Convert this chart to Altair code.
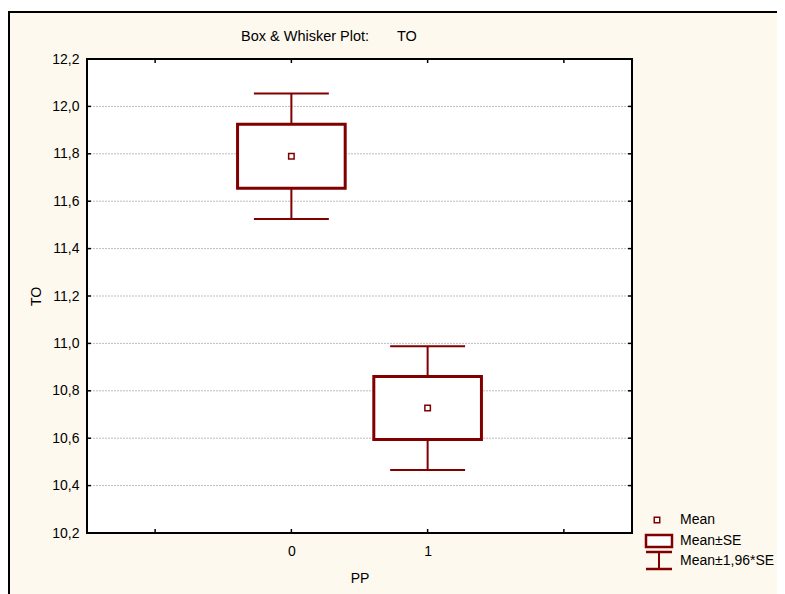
import altair as alt
import pandas as pd

# ---- data ----
pp = [0, 1]
mean = [11.79, 10.727]
se = [0.135, 0.133]
y_ticks = [10.2, 10.4, 10.6, 10.8, 11.0, 11.2, 11.4, 11.6, 11.8, 12.0, 12.2]
grid_vals = [10.4, 10.6, 10.8, 11.0, 11.2, 11.4, 11.6, 11.8, 12.0]
x_ticks = [-1, 0, 1, 2]
x_labels = [0, 1]
legend_labels = ["Mean", "Mean±SE", "Mean±1,96*SE"]
title_left = "Box & Whisker Plot:"
title_right = "TO"

W, H = 545, 474
DARK = "#800000"
CREAM = "#FEF9EE"
FONT = "Liberation Sans"
FS = 14

df = pd.DataFrame({"pp": pp, "mean": mean, "se": se})
grid_df = pd.DataFrame({"v": grid_vals})
ytick_df = pd.DataFrame({"v": y_ticks})
xtick_df = pd.DataFrame({"t": x_ticks})
one = pd.DataFrame({"a": [0]})

xscale = alt.Scale(domain=[-1.5, 2.5], nice=False, zero=False)
yscale = alt.Scale(domain=[10.2, 12.2], nice=False, zero=False)

xaxis = alt.Axis(values=x_labels, ticks=False, domain=False, grid=False, zindex=2,
                 labelFont=FONT, labelFontSize=FS, labelColor="black", labelPadding=11,
                 titleFont=FONT, titleFontSize=FS, titleFontWeight="normal",
                 titleColor="black", titlePadding=13)
yaxis = alt.Axis(values=y_ticks, ticks=False, domain=False, grid=False, zindex=2,
                 labelExpr="replace(format(datum.value, '.1f'), '.', ',')",
                 labelFont=FONT, labelFontSize=FS, labelColor="black", labelPadding=8,
                 titleFont=FONT, titleFontSize=FS, titleFontWeight="normal",
                 titleColor="black", titlePadding=8)


def X(field, **kw):
    return alt.X(field, type="quantitative", scale=xscale, axis=xaxis, title="PP", **kw)


def Y(field, **kw):
    return alt.Y(field, type="quantitative", scale=yscale, axis=yaxis, title="TO", **kw)


base = alt.Chart(df).transform_calculate(
    se_lo="datum.mean - datum.se",
    se_hi="datum.mean + datum.se",
    ci_lo="datum.mean - 1.96 * datum.se",
    ci_hi="datum.mean + 1.96 * datum.se",
    box_l="datum.pp - 0.395",
    box_r="datum.pp + 0.395",
    cap_l="datum.pp - 0.275",
    cap_r="datum.pp + 0.275",
)

# background frame and plot area
frame = alt.Chart(one).mark_rect(fill=CREAM).encode(
    x=alt.value(-78), y=alt.value(-47), x2=alt.value(W + 160), y2=alt.value(H + 80))
frame_top = alt.Chart(one).mark_rule(color="black", strokeWidth=2).encode(
    x=alt.value(-79), x2=alt.value(W + 160), y=alt.value(-47))
frame_left = alt.Chart(one).mark_rule(color="black", strokeWidth=2).encode(
    x=alt.value(-78), y=alt.value(-48), y2=alt.value(H + 80))
plotbg = alt.Chart(one).mark_rect(fill="white").encode(
    x=alt.value(0), y=alt.value(0), x2=alt.value(W), y2=alt.value(H))

grid = alt.Chart(grid_df).mark_rule(color="#BDBDBD", strokeWidth=1, strokeDash=[2, 1]).encode(
    y=Y("v"), x=alt.value(0), x2=alt.value(W))

tick_left = alt.Chart(ytick_df).mark_rule(color="black", strokeWidth=1.5).encode(
    y=Y("v"), x=alt.value(0), x2=alt.value(4))
tick_right = alt.Chart(ytick_df).mark_rule(color="black", strokeWidth=1.5).encode(
    y=Y("v"), x=alt.value(W - 4), x2=alt.value(W))
tick_bottom = alt.Chart(xtick_df).mark_rule(color="black", strokeWidth=1.5).encode(
    x=X("t"), y=alt.value(H - 4), y2=alt.value(H))
tick_top = alt.Chart(xtick_df).mark_rule(color="black", strokeWidth=1.5).encode(
    x=X("t"), y=alt.value(0), y2=alt.value(4))

whisker = base.mark_rule(color=DARK, strokeWidth=2).encode(
    x=X("pp"), y=Y("ci_lo:Q"), y2="ci_hi:Q")
cap_hi = base.mark_rule(color=DARK, strokeWidth=2).encode(
    x=X("cap_l:Q"), x2="cap_r:Q", y=Y("ci_hi:Q"))
cap_lo = base.mark_rule(color=DARK, strokeWidth=2).encode(
    x=X("cap_l:Q"), x2="cap_r:Q", y=Y("ci_lo:Q"))
box = base.mark_rect(fill="white", stroke=DARK, strokeWidth=3).encode(
    x=X("box_l:Q"), x2="box_r:Q", y=Y("se_lo:Q"), y2="se_hi:Q")
pts = base.mark_point(shape="square", size=30, filled=False, fill="white",
                      stroke=DARK, strokeWidth=1.5, opacity=1).encode(
    x=X("pp"), y=Y("mean"))

border = alt.Chart(one).mark_rect(fill=None, stroke="black", strokeWidth=2).encode(
    x=alt.value(0), y=alt.value(0), x2=alt.value(W), y2=alt.value(H))

# legend (drawn manually)
lg_sq = alt.Chart(one).mark_point(shape="square", size=30, filled=False, fill="white",
                                  stroke=DARK, strokeWidth=1.5, opacity=1).encode(
    x=alt.value(570), y=alt.value(461))
lg_box = alt.Chart(one).mark_rect(fill="white", stroke=DARK, strokeWidth=2.5).encode(
    x=alt.value(559), x2=alt.value(585), y=alt.value(476), y2=alt.value(488))
lg_w1 = alt.Chart(one).mark_rule(color=DARK, strokeWidth=2.5).encode(
    x=alt.value(559), x2=alt.value(585), y=alt.value(493))
lg_w2 = alt.Chart(one).mark_rule(color=DARK, strokeWidth=2.5).encode(
    x=alt.value(559), x2=alt.value(585), y=alt.value(510))
lg_w3 = alt.Chart(one).mark_rule(color=DARK, strokeWidth=2).encode(
    x=alt.value(572), y=alt.value(493), y2=alt.value(510))
lg_t = []
for lab, yy in zip(legend_labels, [461, 482, 502]):
    lg_t.append(alt.Chart(one).mark_text(align="left", baseline="middle", font=FONT,
                                         fontSize=FS, color="black").encode(
        x=alt.value(593), y=alt.value(yy), text=alt.value(lab)))

t1 = alt.Chart(one).mark_text(align="left", baseline="middle", font=FONT, fontSize=14.5,
                              color="black").encode(
    x=alt.value(154), y=alt.value(-22), text=alt.value(title_left))
t2 = alt.Chart(one).mark_text(align="left", baseline="middle", font=FONT, fontSize=14.5,
                              color="black").encode(
    x=alt.value(310), y=alt.value(-22), text=alt.value(title_right))

chart = alt.layer(
    frame, frame_top, frame_left, plotbg, grid, tick_left, tick_right, tick_bottom, tick_top,
    whisker, cap_hi, cap_lo, box, pts, border,
    lg_sq, lg_box, lg_w1, lg_w2, lg_w3, *lg_t, t1, t2,
).properties(
    width=W, height=H,
    padding={"left": 79, "top": 51, "right": 145, "bottom": 62},
    autosize=alt.AutoSizeParams(type="none"),
    background="white",
).configure_view(stroke=None)

chart.save("out.html", embed_options={"renderer": "svg", "actions": False})
